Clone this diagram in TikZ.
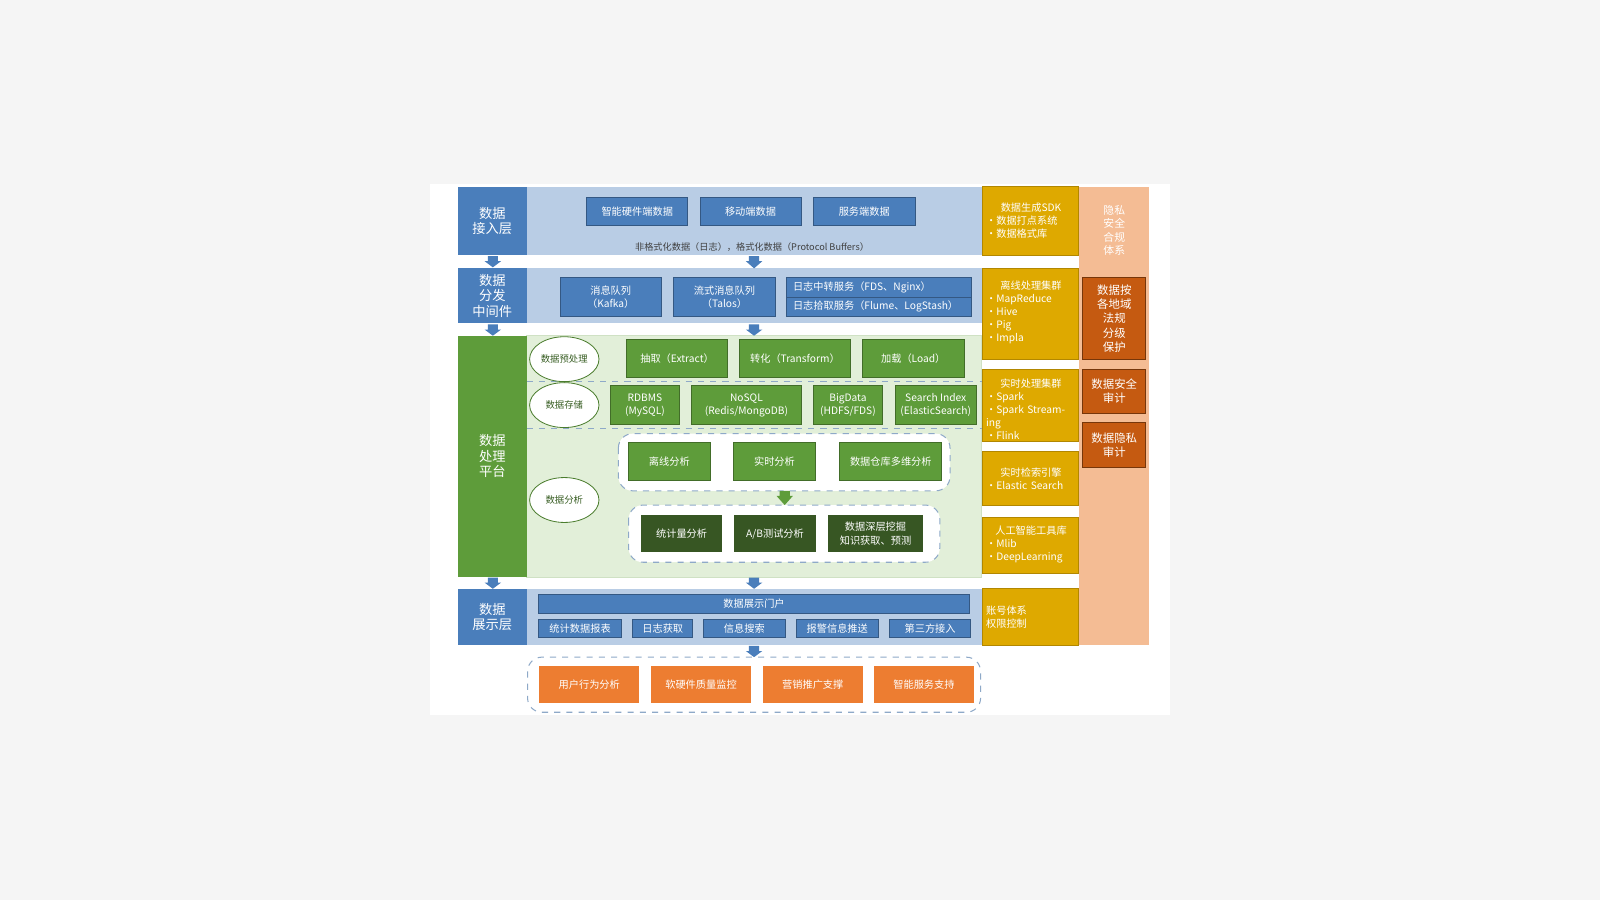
\documentclass[tikz,border=0pt]{standalone}
\usepackage{fontspec}
\setmainfont{Noto Sans CJK SC}
\usetikzlibrary{shapes.geometric}
\definecolor{bl}{HTML}{4A7EBB}
\definecolor{lbl}{HTML}{B9CDE5}
\definecolor{gr}{HTML}{5E9C3A}
\definecolor{lgr}{HTML}{E2EFD9}
\definecolor{dgr}{HTML}{375623}
\definecolor{gd}{HTML}{DEA900}
\definecolor{pe}{HTML}{F4BC94}
\definecolor{dor}{HTML}{C55A11}
\definecolor{orr}{HTML}{ED7D31}
\definecolor{dsh}{HTML}{8EA9C8}
\tikzset{
 bx/.style={draw=none,inner sep=0pt,outer sep=0pt,align=center,text=white,font=\fontsize{5}{6.5}\selectfont},
 blb/.style={bx,fill=bl,draw=bl!70!black,line width=0.4pt},
 grb/.style={bx,fill=gr,draw=gr!70!black,line width=0.4pt},
 dgb/.style={bx,fill=dgr,draw=white,line width=0.6pt},
 orb/.style={bx,fill=orr,draw=white,line width=0.6pt},
 dob/.style={bx,fill=dor,draw=dor!60!black,line width=0.5pt,font=\fontsize{5.6}{7}\selectfont},
 gdb/.style={bx,fill=gd,draw=gd!80!black,line width=0.3pt},
 band/.style={bx,text=black},
 side/.style={bx,font=\fontsize{6.5}{7.5}\selectfont},
 ell/.style={ellipse,draw=gr!80!black,fill=white,line width=0.4pt,inner sep=0pt,minimum width=34pt,minimum height=22pt,font=\fontsize{4.6}{6}\selectfont,text=gr!60!black},
 cont/.style={draw=dsh,dashed,rounded corners=7pt,fill=white,line width=0.5pt},
 gtxt/.style={anchor=north west,inner sep=0pt,text=white,align=left,text width=44pt,font=\fontsize{5}{6.4}\selectfont},
}
\newcommand\rbox[7][]{%
 \pgfmathsetmacro\bw{(#5-#3)*0.5}\pgfmathsetmacro\bh{(#6-#4)*0.5}%
 \node[#1,minimum width=\bw pt,minimum height=\bh pt] (#2) at ({(#3+#5)/2},{(#4+#6)/2}) {#7};}
\newcommand\darr[4][bl]{%
 \fill[#1] ({#2-5},#3) -- ({#2+5},#3) -- ({#2+5},{#3+5}) -- ({#2+8},{#3+5}) -- (#2,#4) -- ({#2-8},{#3+5}) -- ({#2-5},{#3+5}) -- cycle;}
\begin{document}
\begin{tikzpicture}[x=0.5pt,y=-0.5pt]
\useasboundingbox (0,0) rectangle (1568,882);
\fill[gray!8] (0,0) rectangle (1568,882);
\fill[white] (421,180) rectangle (1147,701);
% bands
\rbox[band,fill=lbl]{b1}{516}{183}{962}{250}{}
\rbox[band,fill=lbl]{b2}{516}{263}{962}{317}{}
\rbox[band,fill=lgr,draw=gr!30]{b3}{516}{329}{962}{566}{}
\rbox[band,fill=lbl]{b4}{516}{577}{962}{632}{}
\draw[dsh,dashed,line width=0.6pt] (516,374) -- (962,374) (516,420) -- (962,420);
% left column
\rbox[side,fill=bl]{l1}{449}{183}{516}{250}{数据\\接入层}
\rbox[side,fill=bl]{l2}{449}{263}{516}{317}{数据\\分发\\中间件}
\rbox[side,fill=gr]{l3}{449}{329}{516}{565}{数据\\处理\\平台}
\rbox[side,fill=bl]{l4}{449}{577}{516}{632}{数据\\展示层}
% arrows
\darr{483}{251}{262}\darr{483}{318}{329}\darr{483}{566}{577}
\darr{739}{251}{263}\darr{739}{318}{329}\darr{739}{566}{577}\darr{739}{633}{644}
% row1
\rbox[blb]{s1}{575}{193}{674}{221}{智能硬件端数据}
\rbox[blb]{s2}{686}{193}{785}{221}{移动端数据}
\rbox[blb]{s3}{797}{193}{897}{221}{服务端数据}
\node[bx,text=black!75,font=\fontsize{4.5}{5}\selectfont] (fmt) at (737,242) {非格式化数据（日志），格式化数据（Protocol Buffers）};
% row2
\rbox[blb]{m1}{549}{272}{648}{310}{消息队列\\（Kafka）}
\rbox[blb]{m2}{660}{272}{760}{310}{流式消息队列\\（Talos）}
\rbox[blb,text width=86pt,align=left]{m3}{771}{272}{952}{291}{\,日志中转服务（FDS、Nginx）}
\rbox[blb,text width=86pt,align=left]{m4}{771}{291}{952}{310}{\,日志拾取服务（Flume、LogStash）}
% ellipses
\node[ell] (e1) at (553,352) {数据预处理};
\node[ell] (e2) at (553,397) {数据存储};
\node[ell] (e3) at (553,490) {数据分析};
% ETL
\rbox[grb]{t1}{614}{333}{713}{370}{抽取（Extract）}
\rbox[grb]{t2}{725}{333}{833}{370}{转化（Transform）}
\rbox[grb]{t3}{845}{333}{945}{370}{加载（Load）}
% storage
\rbox[grb]{d1}{598}{378}{666}{416}{RDBMS\\(MySQL)}
\rbox[grb]{d2}{678}{378}{785}{416}{NoSQL\\(Redis/MongoDB)}
\rbox[grb]{d3}{797}{378}{865}{416}{BigData\\(HDFS/FDS)}
\rbox[grb]{d4}{877}{378}{957}{416}{Search Index\\(ElasticSearch)}
% analysis
\draw[cont] (606,425) rectangle (931,481);
\rbox[grb]{a1}{616}{434}{696}{471}{离线分析}
\rbox[grb]{a2}{719}{434}{799}{471}{实时分析}
\rbox[grb]{a3}{823}{434}{923}{471}{数据仓库多维分析}
\darr[gr]{769}{481}{495}
\draw[cont] (616,495) rectangle (921,551);
\rbox[dgb]{k1}{628}{504}{708}{542}{统计量分析}
\rbox[dgb]{k2}{719}{504}{800}{542}{A/B测试分析}
\rbox[dgb]{k3}{811}{504}{905}{542}{数据深层挖掘\\知识获取、预测}
% display
\rbox[blb]{p0}{528}{583}{950}{601}{数据展示门户}
\rbox[blb]{p1}{528}{607}{609}{625}{统计数据报表}
\rbox[blb]{p2}{620}{607}{679}{625}{日志获取}
\rbox[blb]{p3}{689}{607}{770}{625}{信息搜索}
\rbox[blb]{p4}{780}{607}{861}{625}{报警信息推送}
\rbox[blb]{p5}{872}{607}{951}{625}{第三方接入}
% apps
\draw[cont] (517,644) rectangle (961,698);
\rbox[orb]{o1}{528}{652}{627}{690}{用户行为分析}
\rbox[orb]{o2}{637}{652}{737}{690}{软硬件质量监控}
\rbox[orb]{o3}{747}{652}{846}{690}{营销推广支撑}
\rbox[orb]{o4}{856}{652}{955}{690}{智能服务支持}
% right gold column
\rbox[gdb]{g1}{963}{183}{1057}{250}{}
\rbox[gdb]{g2}{963}{263}{1057}{352}{}
\rbox[gdb]{g3}{963}{362}{1057}{432}{}
\rbox[gdb]{g4}{963}{442}{1057}{495}{}
\rbox[gdb]{g5}{963}{507}{1057}{562}{}
\rbox[gdb]{g6}{963}{577}{1057}{632}{}
\node[gtxt] (gt1) at (966,198) {\makebox[\linewidth]{数据生成SDK}\\•数据打点系统\\•数据格式库};
\node[gtxt] (gt2) at (966,275) {\makebox[\linewidth]{离线处理集群}\\•MapReduce\\•Hive\\•Pig\\•Impla};
\node[gtxt] (gt3) at (966,371) {\makebox[\linewidth]{实时处理集群}\\•Spark\\•Spark Streaming\\•Flink};
\node[gtxt] (gt4) at (966,458) {\makebox[\linewidth]{实时检索引擎}\\•Elastic Search};
\node[gtxt] (gt5) at (966,515) {\makebox[\linewidth]{人工智能工具库}\\•Mlib\\•DeepLearning};
\node[gtxt] (gt6) at (966,593) {账号体系\\权限控制};
% peach column
\rbox[bx,fill=pe,font=\fontsize{5.3}{6.8}\selectfont]{pc}{1057}{183}{1126}{632}{}
\node[bx,font=\fontsize{5.3}{6.6}\selectfont] (pt) at (1092,226) {隐私\\安全\\合规\\体系};
\rbox[dob]{r1}{1061}{272}{1123}{352}{数据按\\各地域\\法规\\分级\\保护}
\rbox[dob]{r2}{1061}{362}{1123}{405}{数据安全\\审计}
\rbox[dob]{r3}{1061}{414}{1123}{458}{数据隐私\\审计}
\end{tikzpicture}
\end{document}
